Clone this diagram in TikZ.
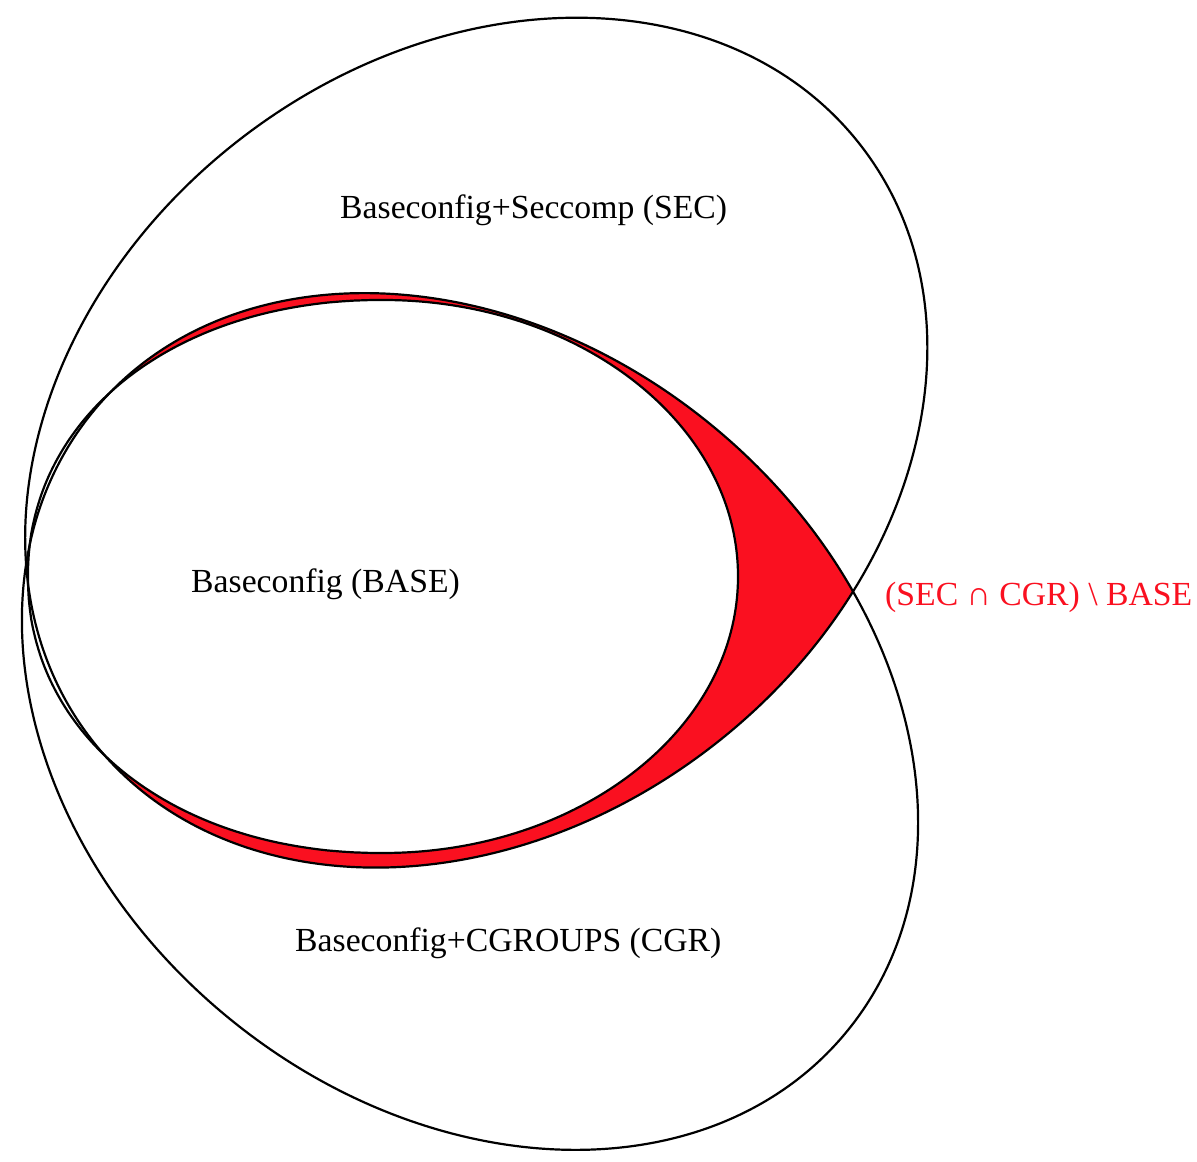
\documentclass[tikz,border=0pt]{standalone}
\usepackage{fontspec}
\setmainfont{Liberation Serif}
\definecolor{vred}{RGB}{250,16,32}
\def\vbasepath{(383,862) arc[start angle=90, end angle=-90, x radius=355, y radius=276.5]
  -- plot[variable=\s, domain=90:0, samples=91] ({383-355*max(cos(\s),0.00001)^0.952},{585.5-276.5*max(sin(\s),0.00001)^0.952})
  -- plot[variable=\s, domain=0:90, samples=91] ({383-355*max(cos(\s),0.00001)^0.952},{585.5+276.5*max(sin(\s),0.00001)^0.952})
  -- cycle}
\def\vsecpath{[rotate around={37.5:(476.25,719.34)}] (476.25,719.34) ellipse [x radius=486, y radius=384.5]}
\def\vcgrpath{[rotate around={-39.6:(470,440.5)}] (470,440.5) ellipse [x radius=488, y radius=382.3]}
\begin{document}
\begin{tikzpicture}[x=1pt,y=1pt,
  outline/.style={draw=black, line width=2.2pt},
  lbl/.style={inner sep=0pt, anchor=base west, font=\fontsize{33.7}{40}\selectfont},
  redlbl/.style={lbl, text=vred}]
\useasboundingbox[fill=white] (0,0) rectangle (1197,1162);
% red region: (SEC intersect CGR) minus BASE
\begin{scope}
  \clip[rotate around={37.5:(476.25,719.34)}] (476.25,719.34) ellipse [x radius=486, y radius=384.5];
  \fill[vred, rotate around={-39.6:(470,440.5)}] (470,440.5) ellipse [x radius=488, y radius=382.3];
  \fill[white] \vbasepath;
\end{scope}
% outlines
\draw[outline, rotate around={37.5:(476.25,719.34)}] (476.25,719.34) ellipse [x radius=486, y radius=384.5];
\draw[outline, rotate around={-39.6:(470,440.5)}] (470,440.5) ellipse [x radius=488, y radius=382.3];
\draw[outline, line join=round] \vbasepath;
% labels
\node[lbl] (sec) at (340,943) {Baseconfig+Seccomp (SEC)};
\node[lbl] (base) at (191,569) {Baseconfig (BASE)};
\node[lbl] (cgr) at (295,210) {Baseconfig+CGROUPS (CGR)};
\node[redlbl] (diff) at (885,556) {(SEC ∩ CGR) \textbackslash\ BASE};
\end{tikzpicture}
\end{document}
